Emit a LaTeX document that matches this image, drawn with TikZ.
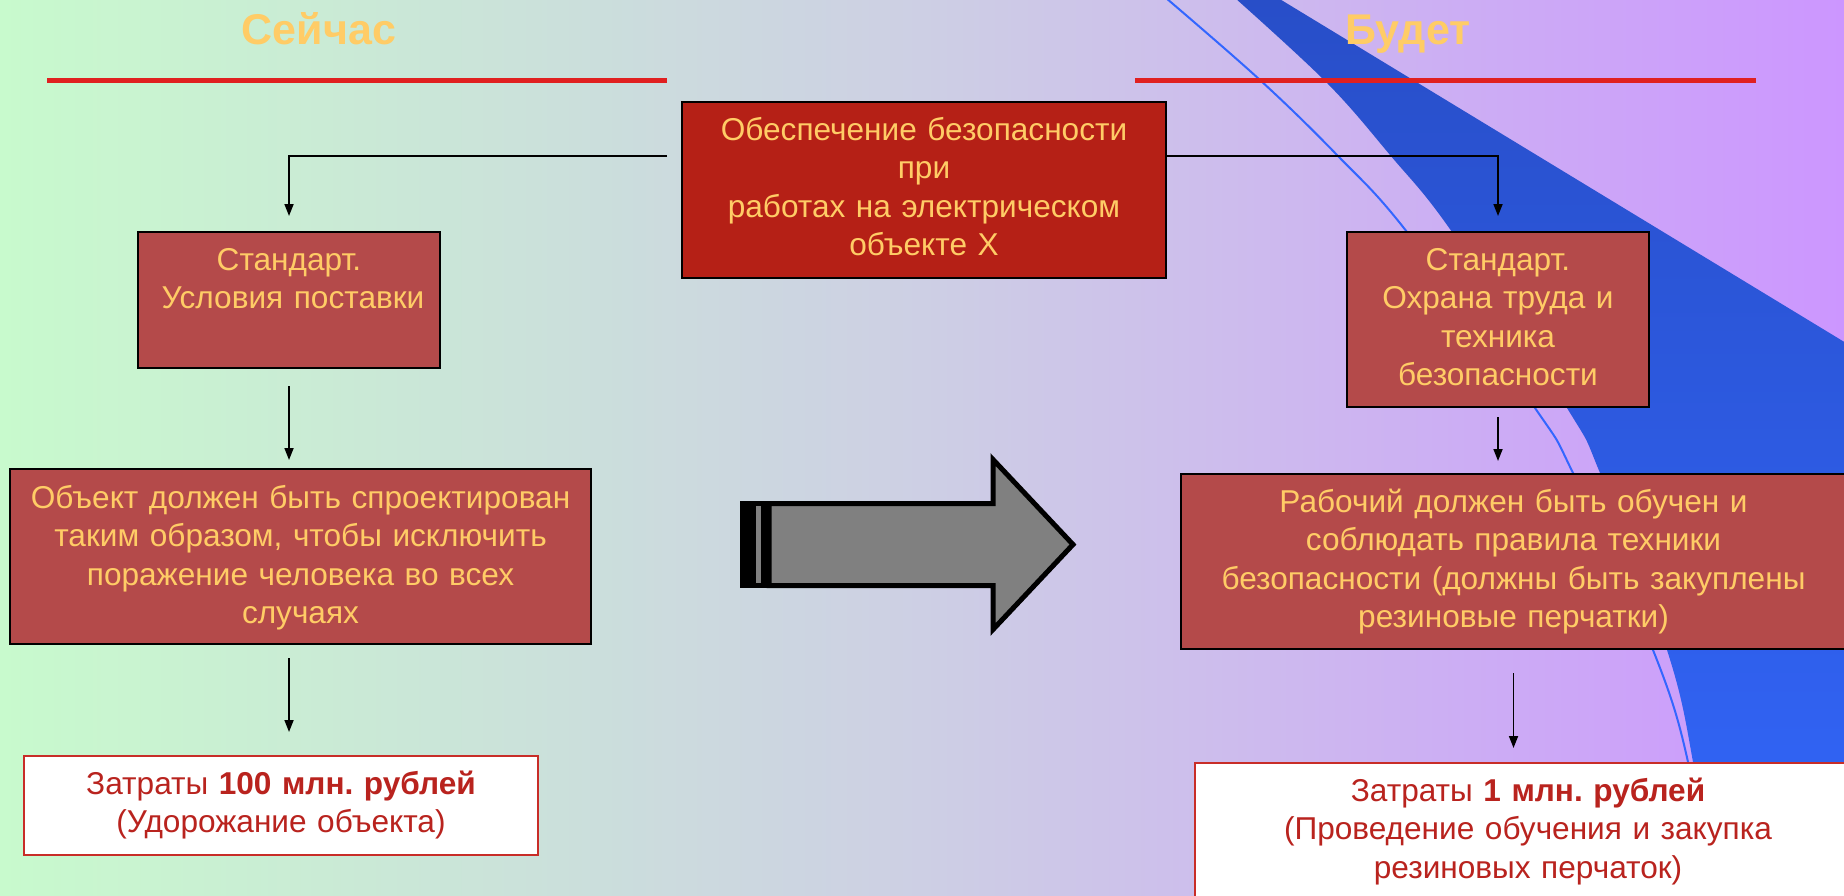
\documentclass[tikz,border=0pt]{standalone}
\usepackage{fontspec}
\setmainfont{Liberation Sans}
\usetikzlibrary{arrows.meta,calc}
\frenchspacing

\definecolor{bgleft}{RGB}{200,250,205}
\definecolor{bgmid}{RGB}{205,207,228}
\definecolor{bgright}{RGB}{204,150,255}
\definecolor{swooshtop}{RGB}{40,78,200}
\definecolor{swooshbot}{RGB}{50,102,250}
\definecolor{swooshline}{RGB}{51,102,255}
\definecolor{rulered}{RGB}{224,32,32}
\definecolor{gold}{RGB}{255,204,102}
\definecolor{topred}{RGB}{181,32,22}
\definecolor{brick}{RGB}{180,74,74}
\definecolor{costred}{RGB}{185,35,30}
\definecolor{costframe}{RGB}{200,45,40}
\definecolor{arrowgray}{RGB}{128,128,128}

\begin{document}
\begin{tikzpicture}[x=1pt,y=-1pt,
  every node/.style={inner sep=0pt, outer sep=0pt},
  heading/.style={font=\fontsize{43}{43}\selectfont\bfseries, text=gold},
  boxtext/.style={rectangle, align=center, text height=38pt,
    font=\fontsize{31.6}{38.5}\selectfont\frenchspacing},
  stdbox/.style={boxtext, draw=black, line width=2.4pt, fill=brick, text=gold},
  mainbox/.style={stdbox, fill=topred},
  costbox/.style={boxtext, draw=costframe, line width=2pt, fill=white, text=costred},
  conn/.style={draw=black, line width=1.7pt, -{Triangle[length=12pt,width=9pt]}},
  rulebar/.style={draw=rulered, line width=5pt}
]
% canvas and background gradient
\path[use as bounding box, clip] (0,0) rectangle (1844,895);
\shade[left color=bgleft, right color=bgright, middle color=bgmid] (0,0) rectangle (1844,895);

% blue swoosh on the right
\shade[top color=swooshtop, bottom color=swooshbot]
  plot[smooth, tension=0.6] coordinates {(1235,-2) (1327,83) (1390,155) (1452,232)
    (1567,408) (1600,473) (1667,650) (1693,762) (1712,897)}
  -- (1846,897) -- (1846,343) -- (1278,-2) -- cycle;
\draw[swooshline, line width=2pt]
  plot[smooth, tension=0.6] coordinates {(1166,-2) (1260,80) (1337,155) (1407,232)
    (1535,408) (1573,473) (1653,650) (1688,762) (1708,897)};

% column headings with red rules
\node[heading, anchor=base] (now) at (319,44) {Сейчас};
\node[heading, anchor=base] (later) at (1408,44) {Будет};
\draw[rulebar] (47,80.5) -- (667,80.5);
\draw[rulebar] (1135,80.5) -- (1756,80.5);

% boxes
\node[mainbox, text width=484pt, text depth=138pt, anchor=north west] (topbox) at (682,102)
  {Обеспечение безопасности\\при\\работах на электрическом\\объекте Х};

\node[stdbox, text width=302pt, text depth=98pt, anchor=north west] (left1) at (138,232)
  {Стандарт.\\\hspace*{8pt}Условия поставки};
\node[stdbox, text width=581pt, text depth=136pt, anchor=north west, text height=39pt] (left2) at (10,469)
  {Объект должен быть спроектирован\\таким образом, чтобы исключить\\поражение человека во всех\\случаях};
\node[costbox, text width=514pt, text depth=61pt, anchor=north west] (leftcost) at (24,756)
  {Затраты \textbf{100 млн. рублей}\\(Удорожание объекта)};

\node[stdbox, text width=302pt, text depth=137pt, anchor=north west] (right1) at (1347,232)
  {Стандарт.\\Охрана труда и\\техника\\безопасности};
\node[stdbox, text width=665pt, text depth=137pt, anchor=north west] (right2) at (1181,474)
  {Рабочий должен быть обучен и\\соблюдать правила техники\\безопасности (должны быть закуплены\\резиновые перчатки)};
\node[costbox, text width=666pt, text depth=110pt, anchor=north west] (rightcost) at (1195,763)
  {Затраты \textbf{1 млн. рублей}\\(Проведение обучения и закупка\\резиновых перчаток)};

% connectors
\draw[conn, shorten >=16pt] ($(topbox.north west)+(-15,54)$) -| (left1.north);
\draw[conn, shorten >=16pt] ($(topbox.north east)+(0,54)$) -| (right1.north);
\draw[conn, shorten <=18pt, shorten >=9pt] (left1.south) -- (left1.south |- left2.north);
\draw[conn, shorten <=14pt, shorten >=24pt] (left1.south |- left2.south) -- (left1.south |- leftcost.north);
\draw[conn, shorten <=10pt, shorten >=13pt] (right1.south) -- (right1.south |- right2.north);
\draw[conn, shorten <=24pt, shorten >=15pt] (right2.south) -- (right2.south |- rightcost.north);

% large striped arrow between the columns
\fill[black] (740,501) rectangle (771,588);
\fill[arrowgray] (756,506) rectangle (761,583);
\draw[line width=5pt, fill=arrowgray, line join=miter]
  (769,503.5) -- (993,503.5) -- (993,459.5) -- (1073,544.5)
  -- (993,629.5) -- (993,585.5) -- (769,585.5) -- cycle;
\end{tikzpicture}
\end{document}
